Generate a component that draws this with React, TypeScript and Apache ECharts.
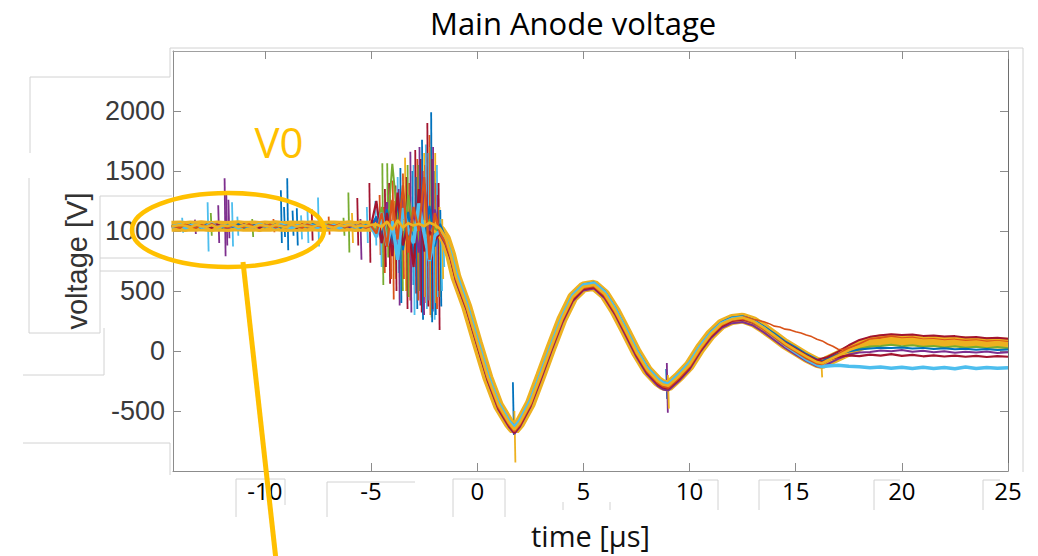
import React, { useEffect, useRef } from "react";
import * as echarts from "echarts";

// ---------- data ----------
const timeUs = [
  -14.4, -14, -13.75, -13.5, -13.25, -13, -12.75, -12.5, -12.25, -12,
  -11.75, -11.5, -11.25, -11, -10.75, -10.5, -10.25, -10, -9.75, -9.5,
  -9.25, -9, -8.75, -8.5, -8.25, -8, -7.75, -7.5, -7.25, -7,
  -6.75, -6.5, -6.25, -6, -5.75, -5.5, -5.25, -5, -4.75, -4.5,
  -4.25, -4, -3.75, -3.5, -3.25, -3, -2.75, -2.5, -2.25, -2,
  -1.75, -1.5, -1.25, -1, -0.5, 0, 0.5, 1, 1.5, 1.75,
  2, 2.5, 3, 3.5, 4, 4.5, 5, 5.5, 6, 6.5,
  7, 7.5, 8, 8.5, 8.75, 9, 9.5, 10, 10.5, 11,
  11.5, 12, 12.5, 13, 13.5, 14, 14.5, 15, 15.5, 16,
  16.25, 16.5, 17, 17.5, 18, 18.5, 19, 19.5, 20, 20.5,
  21, 21.5, 22, 22.5, 23, 23.5, 24, 24.5, 25,
];

const coreBand = [
  1040, 1042, 1038, 1041, 1039, 1043, 1040, 1037, 1042, 1040,
  1038, 1041, 1043, 1039, 1040, 1042, 1038, 1041, 1039, 1043,
  1040, 1038, 1042, 1040, 1041, 1039, 1043, 1040, 1038, 1042,
  1041, 1039, 1040, 1043, 1038, 1041, 1040, 1042, 1040, 1045,
  1038, 1046, 1035, 1048, 1040, 1044, 1050, 1042, 1046, 1030,
  1005, 935, 800, 615, 372, 70, -222, -455, -602, -655,
  -602, -438, -202, 38, 268, 448, 533, 548, 472, 332,
  162, -12, -158, -252, -283, -293, -212, -118, 22, 138,
  222, 262, 274, 244, 188, 124, 58, 4, -50, -95,
  -105, -84, -42, 0, 42, 75, 92, 98, 96, 92,
  88, 84, 80, 77, 74, 71, 69, 67, 65,
];

const traceBlue = [
  1035, 1048, 1029, 1052, 1041, 1026, 1055, 1038, 1044, 1030,
  1050, 1036, 1058, 1027, 1043, 1049, 1032, 1046, 1039, 1054,
  1028, 1047, 1035, 1051, 1042, 1033, 1057, 1040, 1029, 1045,
  1053, 1031, 1048, 1037, 1044, 1026, 1050, 1039, 1120, 960,
  1180, 890, 1250, 840, 1160, 780, 1300, 920, 1210, 870,
  1060, 945, 820, 640, 400, 100, -195, -430, -580, -625,
  -585, -410, -180, 60, 285, 470, 555, 570, 500, 360,
  190, 15, -130, -230, -260, -270, -190, -95, 45, 160,
  240, 280, 290, 260, 205, 145, 80, 30, -25, -70,
  -85, -60, -25, -5, 12, 20, 28, 24, 30, 20,
  26, 16, 22, 14, 19, 11, 16, 8, 12,
];

const traceOrange = [
  1044, 1030, 1052, 1039, 1027, 1049, 1036, 1058, 1033, 1045,
  1028, 1051, 1040, 1034, 1056, 1031, 1047, 1038, 1053, 1029,
  1046, 1035, 1050, 1041, 1027, 1055, 1037, 1044, 1032, 1049,
  1038, 1054, 1030, 1046, 1035, 1052, 1028, 1043, 980, 1150,
  870, 1260, 930, 1380, 820, 1200, 1000, 1450, 760, 1150,
  980, 905, 780, 600, 360, 60, -235, -470, -615, -670,
  -615, -450, -215, 25, 255, 440, 525, 540, 460, 320,
  150, -25, -170, -265, -295, -305, -225, -130, 10, 130,
  215, 258, 270, 240, 180, 115, 50, -5, -60, -105,
  -110, -80, -30, 25, 58, 98, 110, 122, 106, 112,
  96, 100, 88, 94, 84, 88, 78, 82, 74,
];

const traceYellow = [
  1038, 1050, 1043, 1031, 1054, 1040, 1035, 1049, 1027, 1046,
  1041, 1055, 1033, 1048, 1039, 1030, 1052, 1044, 1036, 1050,
  1042, 1029, 1056, 1037, 1048, 1040, 1033, 1051, 1045, 1038,
  1027, 1049, 1041, 1055, 1034, 1046, 1040, 1052, 1055, 1035,
  1080, 1010, 1090, 1030, 1065, 1045, 1060, 1040, 1070, 1050,
  1020, 950, 800, 620, 375, 75, -220, -450, -600, -655,
  -600, -435, -200, 40, 270, 450, 535, 550, 475, 335,
  165, -10, -155, -250, -280, -290, -210, -115, 25, 140,
  225, 265, 278, 248, 192, 128, 62, 8, -45, -92,
  -102, -78, -38, 5, 40, 82, 92, 106, 96, 100,
  88, 90, 78, 84, 72, 78, 66, 74, 64,
];

const tracePurple = [
  1030, 1045, 1036, 1052, 1028, 1043, 1038, 1047, 1056, 1034,
  1024, 1040, 1031, 1048, 1035, 1042, 1027, 1050, 1033, 1046,
  1039, 1029, 1044, 1036, 1051, 1030, 1043, 1037, 1049, 1026,
  1040, 1035, 1047, 1031, 1045, 1038, 1029, 1048, 1100, 900,
  1240, 1010, 850, 1330, 960, 1150, 820, 1400, 1000, 1180,
  970, 890, 760, 580, 340, 40, -255, -490, -635, -690,
  -635, -470, -240, 0, 230, 415, 505, 520, 440, 300,
  125, -50, -195, -290, -320, -330, -250, -155, -10, 105,
  190, 232, 242, 212, 155, 90, 25, -30, -85, -128,
  -135, -110, -65, -30, -12, -8, 4, -2, 8, -6,
  2, -10, -2, -14, -6, -12, -4, -16, -10,
];

const traceGreen = [
  1047, 1033, 1040, 1055, 1029, 1046, 1037, 1051, 1042, 1028,
  1053, 1039, 1045, 1032, 1049, 1036, 1054, 1030, 1043, 1040,
  1048, 1034, 1052, 1027, 1045, 1038, 1050, 1033, 1041, 1056,
  1035, 1044, 1029, 1050, 1037, 1042, 1053, 1031, 1010, 1200,
  960, 1560, 1100, 850, 1300, 1000, 1200, 930, 1100, 1020,
  990, 940, 800, 630, 385, 85, -210, -445, -590, -640,
  -590, -425, -190, 50, 280, 460, 545, 560, 485, 345,
  175, 0, -145, -240, -270, -280, -200, -105, 35, 150,
  235, 275, 288, 258, 200, 135, 70, 15, -40, -85,
  -95, -70, -30, 5, 18, 38, 42, 52, 40, 48,
  36, 42, 30, 40, 28, 36, 24, 34, 22,
];

const traceCyan = [
  1036, 1051, 1027, 1044, 1049, 1032, 1040, 1058, 1029, 1043,
  1037, 1050, 1025, 1046, 1041, 1034, 1055, 1038, 1047, 1030,
  1052, 1039, 1028, 1045, 1036, 1049, 1042, 1031, 1054, 1035,
  1046, 1027, 1041, 1050, 1033, 1047, 1038, 1044, 950, 1150,
  880, 1080, 760, 1190, 1010, 900, 1230, 980, 750, 960,
  1000, 935, 815, 650, 395, 95, -200, -435, -585, -635,
  -580, -415, -185, 55, 285, 465, 550, 565, 490, 350,
  180, 5, -140, -235, -265, -275, -195, -100, 40, 150,
  230, 268, 280, 248, 190, 120, 50, -10, -70, -115,
  -130, -125, -118, -128, -132, -140, -134, -144, -136, -146,
  -135, -145, -138, -148, -134, -146, -138, -144, -140,
];

const traceDarkRed = [
  1041, 1029, 1048, 1037, 1053, 1032, 1045, 1026, 1050, 1039,
  1034, 1047, 1030, 1055, 1038, 1044, 1028, 1052, 1036, 1041,
  1049, 1031, 1045, 1027, 1054, 1038, 1042, 1033, 1048, 1040,
  1029, 1051, 1036, 1043, 1030, 1055, 1034, 1046, 1250, 900,
  1150, 790, 1320, 880, 1060, 700, 1350, 830, 1000, 920,
  985, 905, 770, 590, 350, 50, -245, -480, -625, -680,
  -625, -460, -225, 15, 245, 425, 515, 530, 450, 310,
  140, -35, -180, -275, -305, -315, -235, -140, 0, 120,
  205, 250, 262, 235, 185, 128, 70, 18, -35, -78,
  -92, -75, -50, -36, -42, -30, -38, -26, -40, -32,
  -44, -36, -46, -38, -48, -40, -50, -42, -48,
];

const redUpperTime = [16, 16.5, 17, 17.5, 18, 18.5, 19, 19.5, 20, 20.5, 21, 21.5, 22, 22.5, 23, 23.5, 24, 24.5, 25];
const redUpperVolt = [-75, -50, -5, 48, 92, 118, 132, 140, 134, 138, 126, 130, 120, 124, 112, 116, 106, 110, 102];

const outlierTime = [12.5, 12.75, 13, 13.25, 13.5, 13.75, 14, 14.25, 14.5, 14.75, 15, 15.25, 15.5, 15.75, 16, 16.25, 16.5, 16.75, 17, 17.25, 17.5];
const outlierVolt = [285, 278, 262, 255, 243, 228, 207, 200, 182, 176, 160, 150, 133, 120, 98, 84, 58, 40, 15, 12, 28];

// spikes: time, upper extreme, lower extreme, colour index
const spikeTime = [
  -13.9, -13.3, -12.7, -12.55, -12.2, -11.9, -11.82, -11.72, -11.55, -11.3,
  -10.6, -9.6, -9.25, -9.1, -8.95, -8.7, -8.5, -8.3, -8.0, -7.8,
  -7.5, -7.0, -6.3, -6.07, -5.9, -5.65, -5.5, -5.2, -5.08, -4.8,
  -4.6, -4.55, -4.47, -4.4, -4.35, -4.24, -4.15, -4.1, -3.98, -3.9,
  -3.85, -3.75, -3.7, -3.62, -3.55, -3.5, -3.4, -3.33, -3.28, -3.2,
  -3.15, -3.05, -3.0, -2.92, -2.87, -2.82, -2.77, -2.72, -2.66, -2.6,
  -2.55, -2.5, -2.45, -2.42, -2.35, -2.3, -2.25, -2.2, -2.17, -2.12,
  -2.08, -2.05, -2.0, -1.98, -1.94, -1.9, -1.86, -1.82, -1.78, -1.74,
  -1.7, -1.65, -1.6, 1.68, 1.75, 8.9, 8.93, 8.98, 16.2,
];
const spikeHigh = [
  1110, 1095, 1240, 1150, 1215, 1440, 1300, 1260, 1240, 1120,
  1100, 1100, 1340, 1200, 1440, 1170, 1190, 1130, 1200, 1180,
  1280, 1120, 1110, 1320, 1150, 1275, 1100, 1200, 1400, 1250,
  1300, 1150, 1565, 1200, 1350, 1565, 1400, 1300, 1420, 1250,
  1380, 1450, 1350, 1525, 1300, 1480, 1610, 1450, 1550, 1400,
  1660, 1500, 1550, 1675, 1450, 1600, 1550, 1700, 1600, 1760,
  1500, 1650, 1550, 1720, 1900, 1650, 1800, 1700, 1990, 1600,
  1700, 1000, 1500, 1650, 1400, 1550, 1300, 1400, 1200, 1175,
  1100, 1100, 1000, -260, -500, -150, -100, -200, -60,
];
const spikeLow = [
  985, 975, 830, 960, 900, 790, 880, 940, 870, 960,
  950, 990, 900, 950, 840, 960, 880, 930, 900, 920,
  870, 970, 960, 820, 900, 880, 760, 900, 735, 880,
  800, 700, 550, 650, 700, 780, 560, 600, 430, 600,
  500, 650, 380, 400, 500, 600, 500, 350, 450, 420,
  320, 550, 300, 480, 350, 420, 500, 380, 320, 260,
  300, 450, 400, 350, 370, 420, 300, 280, 240, 350,
  330, 260, 300, 400, 350, 450, 500, 175, 450, 370,
  500, 600, 700, -700, -930, -400, -515, -480, -220,
];
const spikeColor = [
  5, 3, 5, 4, 3, 3, 3, 3, 5, 5,
  4, 1, 0, 0, 0, 0, 0, 5, 5, 6,
  5, 1, 4, 4, 2, 6, 3, 5, 6, 5,
  1, 5, 4, 1, 6, 4, 6, 1, 1, 2,
  6, 5, 3, 0, 4, 1, 2, 6, 4, 1,
  3, 0, 5, 6, 0, 1, 4, 3, 6, 0,
  3, 2, 1, 5, 6, 5, 1, 2, 0, 6,
  3, 5, 0, 2, 1, 5, 3, 6, 2, 0,
  5, 2, 5, 0, 2, 0, 3, 2, 2,
];

const xTicks = [-10, -5, 0, 5, 10, 15, 20, 25];
const yTicks = [-500, 0, 500, 1000, 1500, 2000];

const COLORS = ["#0072BD", "#D95319", "#EDB120", "#7E2F8E", "#77AC30", "#4DBEEE", "#A2142F"];

// faint borders of the pasted text boxes on the slide
const boxLines: [number, number, number, number][] = [
  [170, 48, 1023, 48],
  [1023, 48, 1023, 472],
  [170, 48, 170, 77],
  [30, 77, 170, 77],
  [30, 77, 30, 153],
  [29, 178, 29, 333],
  [29, 333, 100, 333],
  [100, 196, 100, 333],
  [100, 196, 172, 196],
  [100, 258, 172, 258],
  [100, 271, 172, 271],
  [104, 328, 104, 375],
  [23, 375, 104, 375],
  [23, 443, 170, 443],
  [170, 443, 170, 475],
  [236, 479, 236, 517],
  [236, 479, 285, 479],
  [285, 479, 285, 505],
  [327, 482, 327, 517],
  [327, 482, 415, 482],
  [453, 479, 453, 517],
  [453, 479, 505, 479],
  [505, 479, 505, 517],
  [563, 502, 563, 510],
  [610, 502, 610, 510],
  [718, 480, 718, 510],
  [698, 480, 718, 480],
  [759, 480, 759, 510],
  [759, 480, 790, 480],
  [874, 480, 874, 510],
  [874, 480, 900, 480],
  [983, 480, 983, 510],
  [983, 480, 1000, 480],
];

// ---------- chart ----------
const X_MIN = -14.33;
const X_MAX = 25;
const Y_MIN = -1000;
const Y_MAX = 2500;
const AXIS_GRAY = "#8c8c8c";

function onGrid(vals: number[]) {
  return timeUs.map((t, i) => [t, vals[i]]);
}
function zipPairs(ts: number[], vs: number[]) {
  return ts.map((t, i) => [t, vs[i]]);
}
function lineSeries(name: string, data: number[][], color: string, width: number) {
  return {
    type: "line",
    name,
    data,
    showSymbol: false,
    symbol: "none",
    silent: true,
    clip: true,
    lineStyle: { color, width },
  };
}

function plainNumber(v: number) {
  return String(v);
}

function buildOption(): any {
  const spikeData = spikeTime.map((t, i) => [t, spikeHigh[i], spikeLow[i], spikeColor[i]]);
  const axisLine = (color: string) => ({ show: true, onZero: false, lineStyle: { color, width: 1 } });
  return {
    animation: false,
    backgroundColor: "#ffffff",
    title: {
      text: "Main Anode voltage",
      left: 425,
      top: 2,
      textStyle: { fontFamily: "Open Sans", fontSize: 31, fontWeight: "normal", color: "#000" },
    },
    grid: { left: 173, right: 30, top: 51, bottom: 85, containLabel: false },
    xAxis: [
      {
        type: "value",
        min: X_MIN,
        max: X_MAX,
        position: "bottom",
        axisLine: axisLine(AXIS_GRAY),
        axisTick: { show: true, inside: true, length: 8, customValues: xTicks, lineStyle: { color: AXIS_GRAY } },
        axisLabel: { customValues: xTicks, formatter: plainNumber, color: "#000", fontFamily: "Open Sans", fontSize: 24, margin: 7 },
        splitLine: { show: false },
        name: "time [µs]",
        nameLocation: "middle",
        nameGap: 50,
        nameTextStyle: { fontFamily: "Open Sans", fontSize: 29, color: "#111" },
      },
      {
        type: "value",
        min: X_MIN,
        max: X_MAX,
        position: "top",
        axisLine: axisLine("#a0a0a0"),
        axisTick: { show: true, inside: true, length: 8, customValues: xTicks, lineStyle: { color: AXIS_GRAY } },
        axisLabel: { show: false },
        splitLine: { show: false },
      },
    ],
    yAxis: [
      {
        type: "value",
        min: Y_MIN,
        max: Y_MAX,
        position: "left",
        axisLine: axisLine(AXIS_GRAY),
        axisTick: { show: true, inside: true, length: 8, customValues: yTicks, lineStyle: { color: AXIS_GRAY } },
        axisLabel: { customValues: yTicks, formatter: plainNumber, color: "#3a3a3a", fontFamily: "Liberation Sans", fontSize: 27, margin: 8 },
        splitLine: { show: false },
        name: "voltage [V]",
        nameLocation: "middle",
        nameRotate: 90,
        nameGap: 82,
        nameTextStyle: { fontFamily: "Liberation Sans", fontSize: 29, color: "#333" },
      },
      {
        type: "value",
        min: Y_MIN,
        max: Y_MAX,
        position: "right",
        axisLine: axisLine("#6e6e6e"),
        axisTick: { show: true, inside: true, length: 8, customValues: yTicks, lineStyle: { color: AXIS_GRAY } },
        axisLabel: { show: false },
        splitLine: { show: false },
      },
    ],
    series: [
      lineSeries("core", onGrid(coreBand), "#EDB120", 11),
      lineSeries("purple", onGrid(tracePurple), COLORS[3], 2),
      lineSeries("green", onGrid(traceGreen), COLORS[4], 2),
      lineSeries("blue", onGrid(traceBlue), COLORS[0], 2),
      lineSeries("darkred", onGrid(traceDarkRed), COLORS[6], 2.2),
      lineSeries("cyan", onGrid(traceCyan), COLORS[5], 3.5),
      lineSeries("redUpper", zipPairs(redUpperTime, redUpperVolt), COLORS[6], 2),
      lineSeries("outlier", zipPairs(outlierTime, outlierVolt), COLORS[1], 1.6),
      {
        type: "custom",
        name: "spikes",
        data: spikeData,
        encode: { x: 0, y: [1, 2] },
        clip: true,
        silent: true,
        renderItem: (_params: any, api: any) => {
          const t = api.value(0);
          const p1 = api.coord([t, api.value(1)]);
          const p2 = api.coord([t, api.value(2)]);
          return {
            type: "polyline",
            shape: { points: [p1, [p2[0] + 1, p2[1]]] },
            style: { stroke: COLORS[api.value(3)], lineWidth: 1.8, fill: "none" },
          };
        },
      },
      lineSeries("orange", onGrid(traceOrange), COLORS[1], 2.2),
      lineSeries("yellow", onGrid(traceYellow), COLORS[2], 2.6),
    ],
    graphic: [
      ...boxLines.map(([x1, y1, x2, y2]) => ({
        type: "line",
        silent: true,
        z: 1,
        shape: { x1, y1, x2, y2 },
        style: { stroke: "#d2d2d2", lineWidth: 1 },
      })),
      {
        type: "ellipse",
        z: 100,
        silent: true,
        shape: { cx: 228, cy: 230, rx: 96, ry: 37 },
        style: { stroke: "#FFC000", lineWidth: 4.5, fill: "none" },
      },
      {
        type: "line",
        z: 100,
        silent: true,
        shape: { x1: 243, y1: 262, x2: 276, y2: 560 },
        style: { stroke: "#FFC000", lineWidth: 5 },
      },
      {
        type: "text",
        z: 100,
        silent: true,
        x: 279,
        y: 141,
        style: {
          text: "V0",
          fontFamily: "Open Sans",
          fontSize: 42,
          fill: "#FFC000",
          align: "center",
          verticalAlign: "middle",
          textAlign: "center",
          textVerticalAlign: "middle",
        },
      },
    ],
  };
}

export default function App() {
  const ref = useRef<HTMLDivElement>(null);
  useEffect(() => {
    if (!ref.current) return;
    const chart = echarts.init(ref.current, null, { renderer: "svg" });
    chart.setOption(buildOption());
    return () => chart.dispose();
  }, []);
  return (
    <div
      ref={ref}
      style={{ position: "fixed", left: 0, top: 0, width: 1038, height: 556, background: "#fff" }}
    />
  );
}
